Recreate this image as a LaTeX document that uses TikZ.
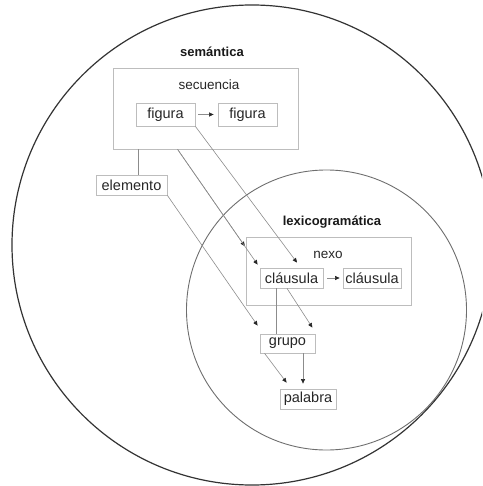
\documentclass[tikz,border=0pt]{standalone}
\usepackage{fontspec}
\setmainfont{Liberation Sans}
\usetikzlibrary{calc,arrows.meta}
\definecolor{boxc}{HTML}{BDBDBD}
\definecolor{linec}{HTML}{8C8C8C}
\definecolor{txt}{HTML}{262626}
\definecolor{circA}{HTML}{333333}
\definecolor{circB}{HTML}{6E6E6E}
\begin{document}
\begin{tikzpicture}[x=1pt,y=-1pt,
  box/.style={draw=boxc, line width=0.8pt, text=txt, inner sep=0pt,
    font=\fontsize{14.5}{16}\selectfont},
  frame/.style={draw=boxc, line width=0.8pt, inner sep=0pt},
  lbl/.style={text=txt, inner sep=0pt, font=\fontsize{13.5}{15}\selectfont},
  head/.style={text=black!90, inner sep=0pt, font=\fontsize{13}{15}\selectfont\bfseries},
  conn/.style={draw=linec, line width=0.6pt},
  arr/.style={conn, -{Triangle[length=4.5pt,width=4pt,color=black!85]}},
  bigc/.style={draw=circA, line width=1.2pt},
  smallc/.style={draw=circB, line width=0.9pt}]
\useasboundingbox (0,0) rectangle (482,486);
\clip (0,0) rectangle (482,486);

% circles
\draw[bigc] (252,245) circle[radius=240];
\draw[smallc] (326.5,310) circle[radius=140];

% headings
\node[head] (sem) at (212,52) {semántica};
\node[head] (lex) at (332,222) {lexicogramática};

% semantic stratum
\node[frame, minimum width=185pt, minimum height=81pt] (seq) at (205.5,108.5) {};
\node[lbl] (seql) at (209,85) {secuencia};
\node[box, minimum width=59pt, minimum height=23pt] (fig1) at (165.5,114.5) {figura};
\node[box, minimum width=59pt, minimum height=23pt] (fig2) at (247.5,114.5) {figura};
\node[box, minimum width=71pt, minimum height=20pt] (elem) at (131.5,185) {elemento};

% lexicogrammar stratum
\node[frame, minimum width=165pt, minimum height=68pt] (nexo) at (328.5,271) {};
\node[lbl] (nexol) at (328,255) {nexo};
\node[box, minimum width=63pt, minimum height=20pt] (cl1) at (291.5,278) {cláusula};
\node[box, minimum width=58pt, minimum height=20pt] (cl2) at (372,278) {cláusula};
\node[box, minimum width=55pt, minimum height=19pt] (grupo) at (287.5,343.5) {grupo};
\node[box, minimum width=56pt, minimum height=20pt] (pal) at (308,399) {palabra};

% coordinates for connector ends
\coordinate (s1) at ($(seq.south west)+(26,0)$);
\coordinate (s2) at ($(seq.south west)+(65,0)$);
\coordinate (eCl) at ($(cl1.north west)+(-2,-3)$);
\coordinate (eNx) at ($(s2)!0.84!(eCl)$);
\coordinate (eFig) at ($(cl1.north)+(5.5,-5)$);
\coordinate (eGr1) at ($(grupo.north west)+(-2,-8)$);
\coordinate (c1) at ($(cl1.south)+(-15.5,0)$);
\coordinate (c2) at ($(cl1.south)+(-4.5,0)$);
\coordinate (eGr2) at ($(grupo.north east)+(-3,-6)$);
\coordinate (g1) at ($(grupo.south west)+(5,0)$);
\coordinate (ePa1) at ($(pal.north west)+(7,-6)$);
\coordinate (g2) at ($(grupo.south)+(15.5,0)$);
\coordinate (ePa2) at ($(g2 |- pal.north)+(0,-5)$);

% connectors
\draw[arr] ($(fig1.east)+(3,0)$) -- ($(fig2.west)+(-4,0)$);
\draw[arr] ($(cl1.east)+(4,0)$) -- ($(cl2.west)+(-3,0)$);
\draw[conn] (s1) -- (s1 |- elem.north);
\draw[arr] (s2) -- (eNx);
\draw[arr] (s2) -- (eCl);
\draw[arr] (fig1.south east) -- (eFig);
\draw[arr] (elem.south east) -- (eGr1);
\draw[conn] (c1) -- (c1 |- grupo.north);
\draw[arr] (c2) -- (eGr2);
\draw[arr] (g1) -- (ePa1);
\draw[arr] (g2) -- (ePa2);
\end{tikzpicture}
\end{document}
